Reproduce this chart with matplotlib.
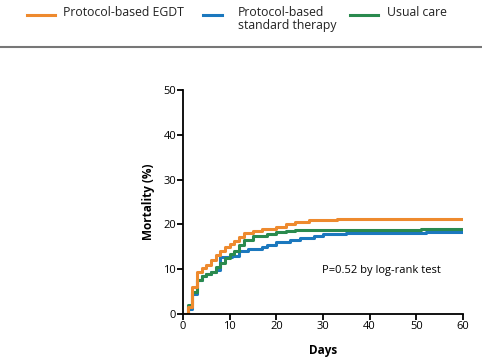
import matplotlib.pyplot as plt
from matplotlib.lines import Line2D

# step curves: (day, cumulative mortality %)
egdt_days = [0, 1, 2, 3, 4, 5, 6, 7, 8, 9, 10, 11, 12, 13, 15, 17, 20, 22, 24, 27, 33, 60]
egdt_vals = [0, 1.5, 6.1, 9.4, 10.2, 11.0, 12.0, 13.2, 14.0, 15.0, 15.6, 16.3, 17.1, 18.0, 18.5, 19.0, 19.5, 20.0, 20.5, 20.9, 21.1, 21.1]

std_days = [0, 1, 2, 3, 4, 5, 6, 7, 8, 10.5, 12, 14, 17, 18, 20, 23, 25, 28, 30, 35, 52, 60]
std_vals = [0, 1.2, 4.5, 7.5, 8.5, 9.0, 9.3, 9.8, 12.8, 13.0, 14.1, 14.6, 15.0, 15.5, 16.0, 16.5, 17.0, 17.5, 17.8, 18.0, 18.3, 18.3]

usual_days = [0, 1, 2, 3, 4, 5, 6, 7, 8, 9, 10, 11, 12, 13, 15, 18, 20, 22, 24, 51, 60]
usual_vals = [0, 1.9, 4.8, 7.6, 8.5, 9.0, 9.4, 10.6, 11.4, 12.6, 13.3, 14.0, 15.3, 16.5, 17.3, 17.8, 18.3, 18.6, 18.8, 19.0, 19.0]

labels = ["Protocol-based EGDT", "Protocol-based\nstandard therapy", "Usual care"]
colors = ["#EE8A2E", "#1B78BE", "#2A8A4E"]

plt.rcParams['font.family'] = ['Open Sans', 'DejaVu Sans']

fig = plt.figure(figsize=(4.82, 3.61), dpi=100)
ax = fig.add_axes([0.3797, 0.1302, 0.5809, 0.6205])

ax.step(std_days, std_vals, where='post', color=colors[1], lw=2.2)
ax.step(usual_days, usual_vals, where='post', color=colors[2], lw=2.2)
ax.step(egdt_days, egdt_vals, where='post', color=colors[0], lw=2.2)

ax.set_xlim(0, 60)
ax.set_ylim(0, 50)
ax.set_xticks(range(0, 61, 10))
ax.set_yticks(range(0, 51, 10))
for s in ['top', 'right']:
    ax.spines[s].set_visible(False)
for s in ['left', 'bottom']:
    ax.spines[s].set_linewidth(1.3)
ax.tick_params(length=4, width=1.3, labelsize=8, pad=1)
ax.set_xlabel("Days", fontsize=8.5, fontweight='bold', labelpad=9)
ax.set_ylabel("Mortality (%)", fontsize=8.5, fontweight='bold', labelpad=6)
ax.text(29.7, 9.8, "P=0.52 by log-rank test", fontsize=8, va='center', ha='left')

# legend strip across the top
W, H = 482, 361
leg = [(27, 55, 63), (203, 222, 238), (350, 378, 387)]
for (x0, x1, tx), lab, c in zip(leg, labels, colors):
    fig.add_artist(Line2D([x0 / W, x1 / W], [1 - 15 / H] * 2, color=c, lw=2.2,
                          transform=fig.transFigure))
    fig.text(tx / W, 1 - 6 / H, lab, fontsize=8.8, va='top', ha='left',
             linespacing=1.05, color='#222222')
fig.add_artist(Line2D([0, 1], [1 - 47 / H] * 2, color='#777777', lw=1.5,
                      transform=fig.transFigure))

fig.savefig("out.png", dpi=100)
